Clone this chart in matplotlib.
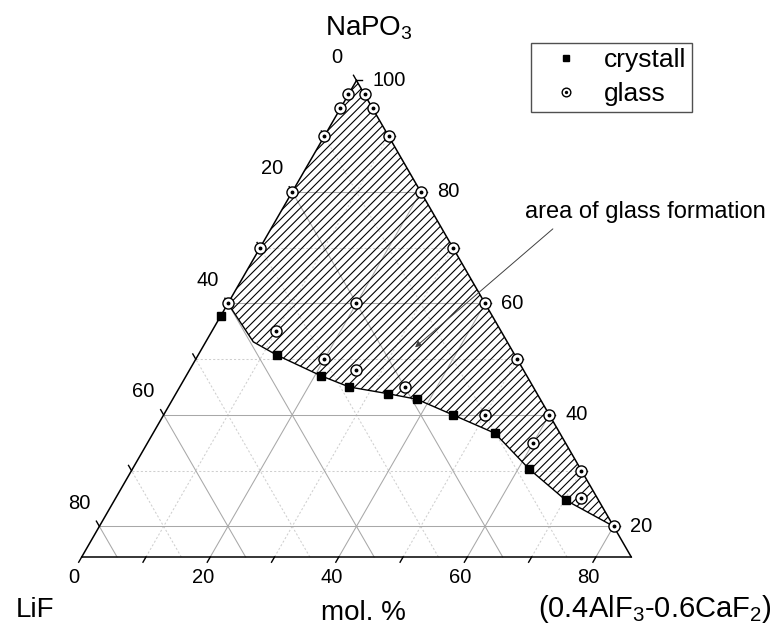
import numpy as np
import matplotlib
matplotlib.use('Agg')
import matplotlib.pyplot as plt
from matplotlib.patches import Polygon

plt.rcParams['font.family'] = ['Liberation Sans', 'DejaVu Sans']
plt.rcParams['mathtext.fontset'] = 'custom'
plt.rcParams['mathtext.rm'] = 'Liberation Sans'
plt.rcParams['mathtext.it'] = 'Liberation Sans:italic'
plt.rcParams['hatch.linewidth'] = 0.8

# compositions, mol.%: A = (0.4AlF3-0.6CaF2), N = NaPO3, LiF = 100 - A - N
glass_A = [0, 2.5, 0, 5, 0, 10, 0, 20, 0, 30, 0, 20, 40, 10, 20, 26, 35, 50, 60, 50, 60, 70, 72.5, 80]
glass_N = [97.5, 97.5, 95, 95, 90, 90, 80, 80, 70, 70, 60, 60, 60, 55, 50, 48, 45, 50, 40, 40, 35, 30, 25, 20]
crystal_A = [0, 12.3, 21, 26.4, 33, 38, 45, 53.2, 61.7, 70.2]
crystal_N = [57.7, 50.7, 47, 45, 43.8, 42.8, 40, 36.7, 30.3, 24.7]
# border of the glass forming area
border_A = [0, 7.4, 12.3, 21, 26.4, 33, 38, 45, 53.2, 61.7, 70.2, 80]
border_N = [60, 53.1, 50.7, 47, 45, 43.8, 42.8, 40, 36.7, 30.3, 24.7, 20]

n_min = 14.5          # NaPO3 content on the lower edge of the diagram
major = [20, 40, 60, 80]
minor = [10, 30, 50, 70]
left_ticks = [0, 10, 20, 30, 40, 50, 60, 70, 80]      # LiF
right_ticks = [100, 90, 80, 70, 60, 50, 40, 30, 20]   # NaPO3
bottom_ticks = [0, 10, 20, 30, 40, 50, 60, 70, 80]    # AlF3-CaF2


def to_xy(a, n):
    a = np.asarray(a, float)
    n = np.asarray(n, float)
    return a + n / 2, n


fig = plt.figure(figsize=(7.73, 6.26), dpi=100)
ax = fig.add_axes([0, 0, 1, 1])
ax.set_xlim(-5.46, 114.80)
ax.set_ylim(2.12, 114.44)
ax.axis('off')
sx, sy = 6.428, 5.573   # pixels per unit

# grid
for vals, col, ls in [(minor, '#cfcfcf', (0, (2, 2))), (major, '#a8a8a8', '-')]:
    for v in vals:
        segs = [((v, n_min), (v, 100 - v)),
                ((100 - n_min - v, n_min), (0, 100 - v))]
        if v > n_min:
            segs.append(((0, v), (100 - v, v)))
        for p, q in segs:
            x, y = to_xy([p[0], q[0]], [p[1], q[1]])
            ax.plot(x, y, color=col, lw=0.75, ls=ls, zorder=1)

# glass forming area
bx, by = to_xy(border_A, border_N)
rx, ry = to_xy([100 - n for n in [20, 100]], [20, 100])
poly_x = np.concatenate([bx, rx])
poly_y = np.concatenate([by, ry])
ax.add_patch(Polygon(np.column_stack([poly_x, poly_y]), closed=True, facecolor='none',
                     edgecolor='black', lw=0, hatch='////', zorder=2))
ax.plot(bx, by, color='black', lw=1.0, zorder=3)

# triangle
x0, y0 = to_xy([0, 0], [n_min, 100])
ax.plot(x0, y0, color='black', lw=1.1, zorder=3)
x1, y1 = to_xy([0, 100 - n_min], [100, n_min])
ax.plot(x1, y1, color='black', lw=1.1, zorder=3)
x2, y2 = to_xy([0, 100 - n_min], [n_min, n_min])
ax.plot(x2, y2, color='black', lw=1.1, zorder=3)

# ticks and labels
tl = 6
for l in left_ticks:
    x, y = to_xy(0, 100 - l)
    ax.plot([x, x - 0.5 * tl / sx], [y, y + 0.866 * tl / sy], color='black', lw=1, zorder=3)
    if l % 20 == 0:
        ax.annotate(str(l), (x, y), xytext=(-20, 23), textcoords='offset pixels',
                    ha='center', va='center', fontsize=14.5)
for n in right_ticks:
    x, y = to_xy(100 - n, n)
    ax.plot([x, x + tl / sx], [y, y], color='black', lw=1, zorder=3)
    if n % 20 == 0:
        ax.annotate(str(n), (x, y), xytext=(16, 0), textcoords='offset pixels',
                    ha='left', va='center', fontsize=14.5)
for a in bottom_ticks:
    x, y = to_xy(a, n_min)
    ax.plot([x, x - 0.5 * tl / sx], [y, y - 0.866 * tl / sy], color='black', lw=1, zorder=3)
    if a % 20 == 0:
        ax.annotate(str(a), (x, y), xytext=(-7.5, -20), textcoords='offset pixels',
                    ha='center', va='center', fontsize=14.5)

# data points
gx, gy = to_xy(glass_A, glass_N)
cx, cy = to_xy(crystal_A, crystal_N)
hc, = ax.plot(cx, cy, 's', ms=5.8, color='black', zorder=4)
hg, = ax.plot(gx, gy, 'o', ms=8, mfc='white', mec='black', mew=1.0, zorder=5)
hd, = ax.plot(gx, gy, 'o', ms=1.8, color='black', zorder=6)

ax.legend([hc, (hg, hd)], ['crystall', 'glass'], loc='upper left',
          bbox_to_anchor=(531 / 773, 1 - 42.7 / 626), bbox_transform=fig.transFigure,
          borderaxespad=0, fontsize=19, markerscale=0.78, numpoints=1,
          handlelength=2.23, handletextpad=0.33, borderpad=0.21, labelspacing=0.38,
          fancybox=False, framealpha=1, edgecolor='#505050')

# annotation
ax.annotate('', xy=(58.79, 51.8), xytext=(80.88, 73.7),
            arrowprops=dict(arrowstyle='-|>', color='#404040', lw=0.7, mutation_scale=9),
            zorder=4)
ax.text(94.88, 76.4, 'area of glass formation', ha='center', va='center', fontsize=17)

# component names
ax.text(51.94, 108.16, 'NaPO$_3$', ha='center', va='baseline', fontsize=20)
ax.text(2.94, 3.82, 'LiF', ha='right', va='baseline', fontsize=20)
ax.text(51.06, 3.2, 'mol. %', ha='center', va='baseline', fontsize=20)
ax.text(114.64, 3.73, '(0.4AlF$_3$-0.6CaF$_2$)', ha='right', va='baseline', fontsize=21)

fig.savefig('out.png', dpi=100)
